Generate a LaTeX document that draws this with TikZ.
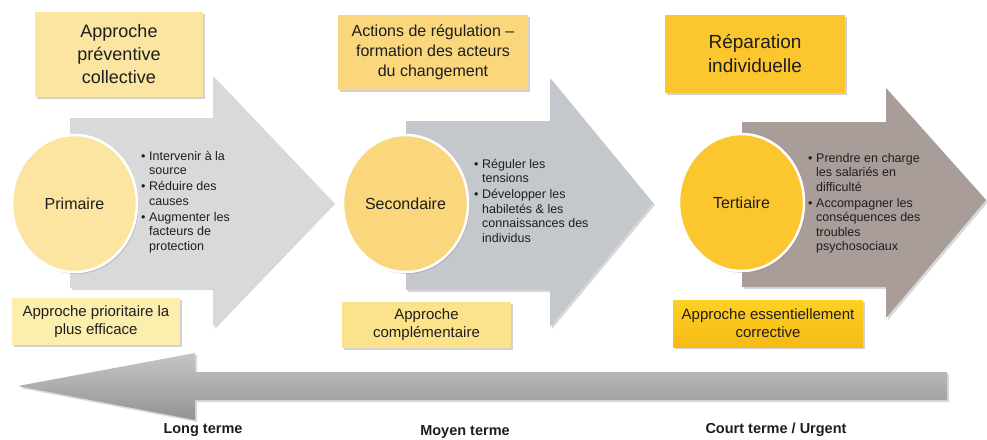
\documentclass[tikz,border=0pt]{standalone}
\usepackage{fontspec}
\setmainfont{Liberation Sans}
\usepackage{tikz}
\usetikzlibrary{shapes.geometric}
\usetikzlibrary{shadows}
\usetikzlibrary{positioning}

\definecolor{jauneClair}{RGB}{251,229,160}
\definecolor{jauneMoyen}{RGB}{250,214,125}
\definecolor{jauneFonce}{RGB}{252,198,46}
\definecolor{jaunePale}{RGB}{252,239,174}
\definecolor{jauneBis}{RGB}{251,227,140}
\definecolor{orOrange}{RGB}{246,186,20}
\definecolor{grisClair}{RGB}{217,217,217}
\definecolor{grisBleu}{RGB}{196,200,204}
\definecolor{taupe}{RGB}{168,157,153}
\definecolor{texte}{RGB}{30,30,30}

\tikzset{
% common look of the boxes
  titlebox/.style={rectangle, inner sep=0, align=center, text=texte,
    drop shadow={shadow xshift=1.5pt, shadow yshift=-2pt, opacity=.35}},
  phase/.style={ellipse, draw=white, line width=2.5pt, inner sep=0,
    minimum width=125pt, minimum height=137pt, text=texte,
    font=\fontsize{16}{18}\selectfont,
    drop shadow={shadow xshift=1.5pt, shadow yshift=-2pt, opacity=.3}},
  bullets/.style={anchor=north west, inner sep=0, align=left, text=texte,
    font=\fontsize{12.5}{14.5}\selectfont},
  arrowshape/.style={drop shadow={shadow xshift=2pt, shadow yshift=-2pt, opacity=.3}},
  terme/.style={inner sep=0, text=texte, font=\bfseries\fontsize{14.5}{16}\selectfont}
}
\newcommand{\puce}[1]{\makebox[8pt][l]{\textbullet}#1}
\newcommand{\suite}[1]{\hspace*{8pt}#1}

\begin{document}
\begin{tikzpicture}[x=1pt, y=-1pt]
  \fill[white] (0,0) rectangle (987,439);
  \useasboundingbox (0,0) rectangle (987,439);

  % big arrows
  \fill[grisClair, arrowshape] (70,118) -- (213,118) -- (213,76) -- (333,202)
    -- (213,327) -- (213,288) -- (70,288) -- cycle;
  \fill[grisBleu, arrowshape] (406,121) -- (550,121) -- (550,78) -- (653,203)
    -- (550,327) -- (550,290) -- (406,290) -- cycle;
  \fill[taupe, arrowshape] (742,122) -- (886,122) -- (886,88) -- (986,200)
    -- (886,318) -- (886,287) -- (742,287) -- cycle;

  % time arrow
  \path[top color=gray!45, bottom color=gray!85, arrowshape] (947,372) -- (195,372)
    -- (195,353) -- (18,386) -- (195,420) -- (195,400) -- (947,400) -- cycle;

  % phases
  \node[phase, fill=jauneClair] (primaire) at (74.5,203.5) {Primaire};
  \node[phase, fill=jauneMoyen] (secondaire) at (405.5,203.5) {Secondaire};
  \node[phase, fill=jauneFonce] (tertiaire) at (741.5,202.5) {Tertiaire};

  \node[bullets] (listePrim) at (141,151) {%
    \puce{Intervenir à la}\\ \suite{source}\\[1.5pt]
    \puce{Réduire des}\\ \suite{causes}\\[1.5pt]
    \puce{Augmenter les}\\ \suite{facteurs de}\\ \suite{protection}};
  \node[bullets] (listeSec) at (474,159) {%
    \puce{Réguler les}\\ \suite{tensions}\\[1.5pt]
    \puce{Développer les}\\ \suite{habiletés \& les}\\
    \suite{connaissances des}\\ \suite{individus}};
  \node[bullets] (listeTert) at (808,153) {%
    \puce{Prendre en charge}\\ \suite{les salariés en}\\ \suite{difficulté}\\[1.5pt]
    \puce{Accompagner les}\\ \suite{conséquences des}\\ \suite{troubles}\\
    \suite{psychosociaux}};

  % titles
  \node[titlebox, fill=jauneClair, minimum width=168pt, minimum height=85pt,
    font=\fontsize{18}{23}\selectfont] (titrePrev) at (119,54.5)
    {Approche\\préventive\\collective};
  \node[titlebox, fill=jauneMoyen, minimum width=190pt, minimum height=75pt,
    font=\fontsize{16}{20}\selectfont] (titreRegul) at (433,52.5)
    {Actions de régulation –\\formation des acteurs\\du changement};
  \node[titlebox, fill=jauneFonce, minimum width=180pt, minimum height=78pt,
    font=\fontsize{19}{24}\selectfont] (titreRepar) at (755,54)
    {Réparation\\individuelle};

  % approaches
  \node[titlebox, fill=jaunePale, minimum width=168pt, minimum height=47pt,
    font=\fontsize{15}{18}\selectfont] (approPrio) at (96,321.5)
    {Approche prioritaire la\\plus efficace};
  \node[titlebox, fill=jauneBis, minimum width=169pt, minimum height=46pt,
    font=\fontsize{15}{18}\selectfont] (approCompl) at (426.5,325)
    {Approche\\complémentaire};
  \node[titlebox, top color=jauneFonce!80!yellow, bottom color=orOrange,
    minimum width=190pt, minimum height=47pt,
    font=\fontsize{15}{18}\selectfont] (approCorr) at (768,323.5)
    {Approche essentiellement\\corrective};

  % time scale
  \node[terme] (long) at (203,430) {Long terme};
  \node[terme] (moyen) at (465,432) {Moyen terme};
  \node[terme] (court) at (776,430) {Court terme / Urgent};
\end{tikzpicture}
\end{document}
